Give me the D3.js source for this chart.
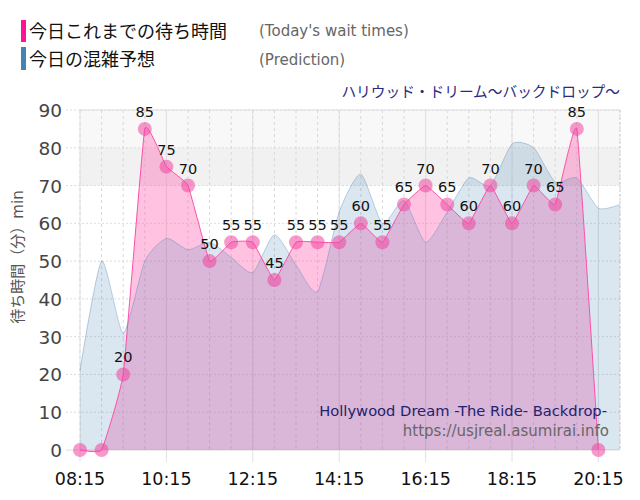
<!DOCTYPE html>
<html>
<head>
<meta charset="utf-8">
<script src="https://cdn.jsdelivr.net/npm/d3@7"></script>
<style>
  body { margin: 0; background: #fff; }
  svg { display: block; font-family: "DejaVu Sans", "Noto Sans CJK JP", sans-serif; }
</style>
</head>
<body>
<div id="chart"></div>
<script>
// half-hour slots, 08:15 .. 20:45
const times = ["08:15", "08:45", "09:15", "09:45", "10:15", "10:45", "11:15", "11:45",
  "12:15", "12:45", "13:15", "13:45", "14:15", "14:45", "15:15", "15:45", "16:15",
  "16:45", "17:15", "17:45", "18:15", "18:45", "19:15", "19:45", "20:15", "20:45"];

// today's actual waits (up to 20:15)
const actual = [0, 0, 20, 85, 75, 70, 50, 55, 55, 45, 55, 55, 55, 60, 55, 65, 70,
  65, 60, 70, 60, 70, 65, 85, 0];

// prediction
const prediction = [21, 50, 31, 50, 56, 53, 55, 51, 47, 57, 49, 42, 63, 73, 60, 66,
  55, 63, 72, 70, 81, 80, 71, 72, 64, 65];

const xTicks = ["08:15", "10:15", "12:15", "14:15", "16:15", "18:15", "20:15"];
const yTicks = [0, 10, 20, 30, 40, 50, 60, 70, 80, 90];
const bandLow = [70, 80];
const bandHigh = [80, 90];

const W = 640, H = 500;
const plot = { left: 80, right: 620, top: 110, bottom: 450 };

const toMin = (t) => {
  const [h, m] = t.split(":").map(Number);
  return h * 60 + m;
};

const x = d3.scaleLinear()
  .domain([toMin(times[0]), toMin(times[times.length - 1])])
  .range([plot.left, plot.right]);
const y = d3.scaleLinear().domain([0, 90]).range([plot.bottom, plot.top]);

const svg = d3.select("#chart").append("svg")
  .attr("width", W).attr("height", H);

// background bands
svg.append("rect")
  .attr("x", plot.left).attr("width", plot.right - plot.left)
  .attr("y", y(bandHigh[1])).attr("height", y(bandHigh[0]) - y(bandHigh[1]))
  .attr("fill", "#f8f8f8");
svg.append("rect")
  .attr("x", plot.left).attr("width", plot.right - plot.left)
  .attr("y", y(bandLow[1])).attr("height", y(bandLow[0]) - y(bandLow[1]))
  .attr("fill", "#f1f1f1");

// grid
const grid = svg.append("g");
grid.selectAll(".hg").data(yTicks).enter().append("line")
  .attr("x1", plot.left - 14).attr("x2", plot.right)
  .attr("y1", (d) => y(d)).attr("y2", (d) => y(d))
  .attr("stroke", "#dcdcdc")
  .attr("stroke-dasharray", (d) => (d === 0 ? null : "2,2"));

grid.selectAll(".vg").data(times).enter().append("line")
  .attr("x1", (d) => x(toMin(d))).attr("x2", (d) => x(toMin(d)))
  .attr("y1", plot.top).attr("y2", plot.bottom)
  .attr("stroke", "#d8d8d8")
  .attr("stroke-dasharray", "3,3");

grid.selectAll(".vt").data(xTicks).enter().append("line")
  .attr("x1", (d) => x(toMin(d))).attr("x2", (d) => x(toMin(d)))
  .attr("y1", plot.top).attr("y2", plot.bottom + 12)
  .attr("stroke", "#e0e0e0");

// series
const actualPts = actual.map((v, i) => [toMin(times[i]), v]);
const predPts = prediction.map((v, i) => [toMin(times[i]), v]);

const actCurve = d3.curveCardinal.tension(0.7);
const predCurve = d3.curveCardinal.tension(0.35);

svg.append("path")
  .datum(actualPts)
  .attr("d", d3.area().x((d) => x(d[0])).y0(y(0)).y1((d) => y(d[1])).curve(actCurve))
  .attr("fill", "rgba(255,105,180,0.4)");

svg.append("path")
  .datum(predPts)
  .attr("d", d3.area().x((d) => x(d[0])).y0(y(0)).y1((d) => y(d[1])).curve(predCurve))
  .attr("fill", "rgba(70,130,180,0.2)");

svg.append("path")
  .datum(predPts)
  .attr("d", d3.line().x((d) => x(d[0])).y((d) => y(d[1])).curve(predCurve))
  .attr("fill", "none")
  .attr("stroke", "rgba(70,130,180,0.35)");

svg.append("path")
  .datum(actualPts)
  .attr("d", d3.line().x((d) => x(d[0])).y((d) => y(d[1])).curve(actCurve))
  .attr("fill", "none")
  .attr("stroke", "#ff4fa8");

// outer dotted frame top/right
svg.append("line")
  .attr("x1", plot.left).attr("x2", plot.right)
  .attr("y1", plot.top).attr("y2", plot.top)
  .attr("stroke", "#cfcfcf").attr("stroke-dasharray", "2,2");
svg.append("line")
  .attr("x1", plot.right).attr("x2", plot.right)
  .attr("y1", plot.top).attr("y2", plot.bottom)
  .attr("stroke", "#cfcfcf").attr("stroke-dasharray", "2,2");

// markers + labels
svg.selectAll(".pt").data(actualPts).enter().append("circle")
  .attr("cx", (d) => x(d[0])).attr("cy", (d) => y(d[1]))
  .attr("r", 7)
  .attr("fill", "rgba(240,70,160,0.55)");

svg.selectAll(".lbl").data(actualPts.filter((d) => d[1] > 0)).enter().append("text")
  .attr("x", (d) => x(d[0])).attr("y", (d) => y(d[1]) - 12)
  .attr("text-anchor", "middle")
  .attr("font-size", 14.5)
  .attr("fill", "#111")
  .text((d) => d[1]);

// axes labels
svg.selectAll(".yl").data(yTicks).enter().append("text")
  .attr("x", 62).attr("y", (d) => y(d) + 7)
  .attr("text-anchor", "end")
  .attr("font-size", 18.5)
  .attr("fill", "#444")
  .text((d) => d);

svg.selectAll(".xl").data(xTicks).enter().append("text")
  .attr("x", (d) => x(toMin(d))).attr("y", 485)
  .attr("text-anchor", "middle")
  .attr("font-size", 17.5)
  .attr("fill", "#111")
  .text((d) => d);

svg.append("text")
  .attr("transform", "translate(23,257) rotate(-90)")
  .attr("text-anchor", "middle")
  .attr("font-size", 15)
  .attr("fill", "#555")
  .text("待ち時間（分）min");

// legend
svg.append("rect").attr("x", 21).attr("y", 20).attr("width", 5).attr("height", 22)
  .attr("fill", "#ff1493");
svg.append("rect").attr("x", 21).attr("y", 47).attr("width", 5).attr("height", 23)
  .attr("fill", "#4682b4");
svg.append("text").attr("x", 29).attr("y", 38).attr("font-size", 18).attr("fill", "#111")
  .text("今日これまでの待ち時間");
svg.append("text").attr("x", 29).attr("y", 66).attr("font-size", 18).attr("fill", "#111")
  .text("今日の混雑予想");
svg.append("text").attr("x", 259).attr("y", 36).attr("font-size", 15).attr("fill", "#666")
  .text("(Today's wait times)");
svg.append("text").attr("x", 259).attr("y", 65).attr("font-size", 15).attr("fill", "#666")
  .text("(Prediction)");

// titles
svg.append("text").attr("x", 620).attr("y", 97).attr("text-anchor", "end")
  .attr("font-size", 14.7).attr("fill", "#2a2a80")
  .text("ハリウッド・ドリーム～バックドロップ～");

svg.append("text").attr("x", 607).attr("y", 416).attr("text-anchor", "end")
  .attr("font-size", 14.7).attr("fill", "#22226e")
  .text("Hollywood Dream -The Ride- Backdrop-");
svg.append("text").attr("x", 609).attr("y", 436).attr("text-anchor", "end")
  .attr("font-size", 15).attr("fill", "#666")
  .text("https://usjreal.asumirai.info");
</script>
</body>
</html>
